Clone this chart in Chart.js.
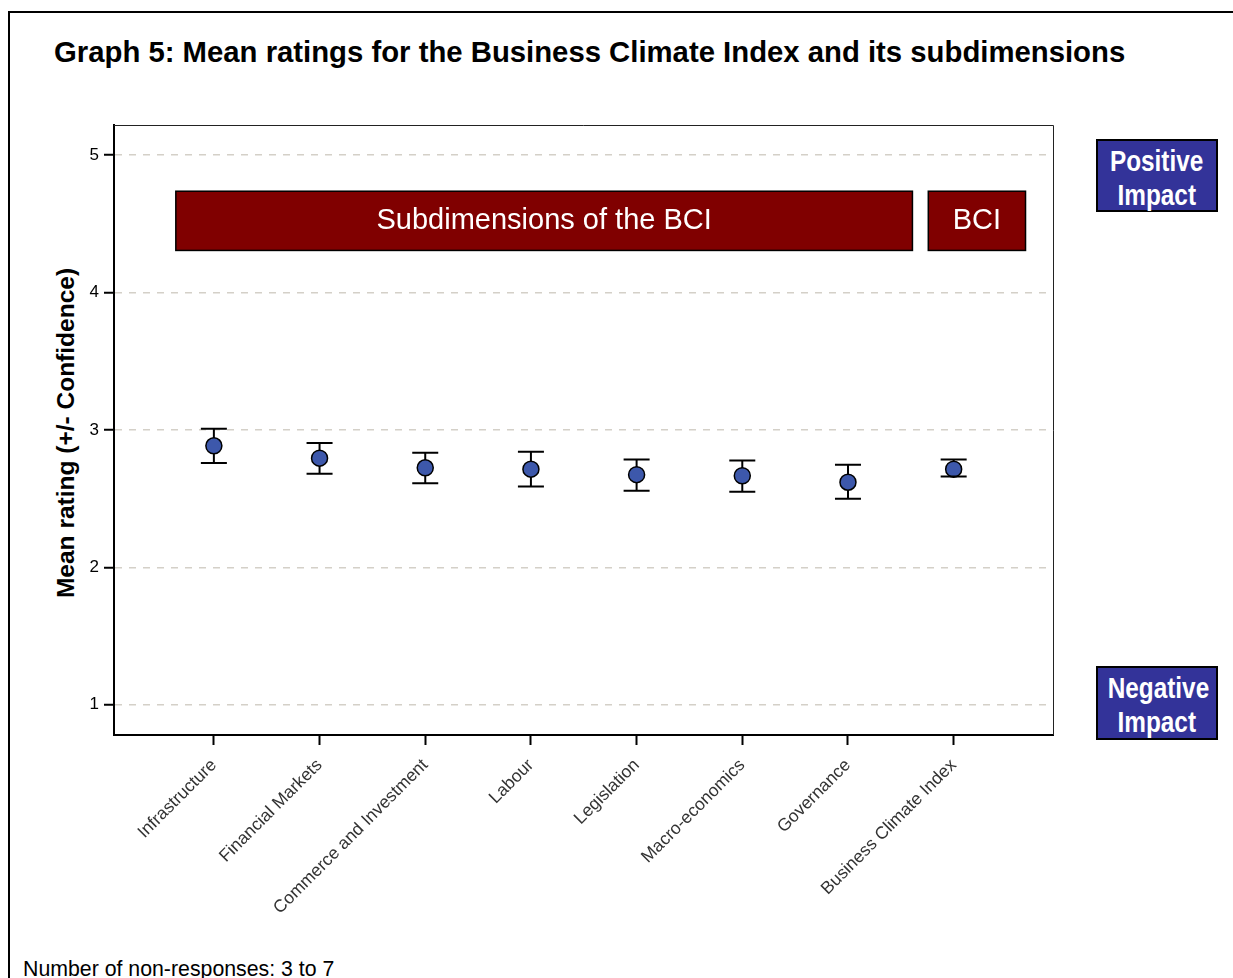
<!DOCTYPE html>
<html>
<head>
<meta charset="utf-8">
<script src="https://cdn.jsdelivr.net/npm/chart.js@4/dist/chart.umd.min.js"></script>
<style>
  html, body { margin: 0; padding: 0; background: #fff; }
  #wrap { position: relative; width: 1233px; height: 978px; overflow: hidden; font-family: "Liberation Sans", Arial, sans-serif; }
  #frame { position: absolute; left: 8px; top: 11px; width: 1240px; height: 990px; border-left: 2px solid #000; border-top: 2px solid #000; box-sizing: border-box; }
  #title { position: absolute; left: 54px; top: 35px; font-size: 29.3px; font-weight: bold; color: #000; white-space: nowrap; }
  #ytitle { position: absolute; left: 66px; top: 433px; transform: translate(-50%, -50%) rotate(-90deg); font-size: 24.5px; font-weight: bold; white-space: nowrap; }
  #foot { position: absolute; left: 23px; top: 957px; font-size: 21.3px; color: #000; white-space: nowrap; }
  .imp { position: absolute; left: 1096px; width: 122px; background: #333399; border: 2px solid #000; box-sizing: border-box; color: #fff;
         font-family: "Liberation Sans", Arial, sans-serif; font-weight: bold; font-size: 29px; line-height: 34px; text-align: center; padding-top: 3px; }
  .imp span { display: inline-block; transform: scaleX(0.84); white-space: nowrap; }
  canvas { position: absolute; left: 0; top: 0; }
</style>
</head>
<body>
<div id="wrap">
  <div id="frame"></div>
  <div id="title">Graph 5: Mean ratings for the Business Climate Index and its subdimensions</div>
  <div id="ytitle">Mean rating (+/- Confidence)</div>
  <div class="imp" style="top:139px;height:73px;"><span>Positive</span><br><span>Impact</span></div>
  <div class="imp" style="top:666px;height:74px;"><span>Negative</span><br><span>Impact</span></div>
  <div id="foot">Number of non-responses: 3 to 7</div>
  <canvas id="c" width="1233" height="978"></canvas>
</div>
<script>
const categories = ["Infrastructure", "Financial Markets", "Commerce and Investment", "Labour", "Legislation", "Macro-economics", "Governance", "Business Climate Index"];
const means = [2.885, 2.795, 2.725, 2.715, 2.675, 2.667, 2.620, 2.715];
const upper = [3.010, 2.905, 2.835, 2.842, 2.785, 2.778, 2.747, 2.785];
const lower = [2.759, 2.681, 2.612, 2.589, 2.558, 2.551, 2.500, 2.661];
const yTicks = [1, 2, 3, 4, 5];
const groupLabels = ["Subdimensions of the BCI", "BCI"];
const groupFrom = [-0.36, 6.76];
const groupTo = [6.61, 7.68];
const groupTop = 4.738;
const groupBottom = 4.307;

const errorBars = {
  id: 'errorBars',
  afterDatasetsDraw(chart) {
    const ctx = chart.ctx, xs = chart.scales.x, ys = chart.scales.y;
    ctx.save();
    ctx.strokeStyle = '#000';
    ctx.lineWidth = 2;
    for (let i = 0; i < means.length; i++) {
      const x = xs.getPixelForValue(i);
      const yu = ys.getPixelForValue(upper[i]);
      const yl = ys.getPixelForValue(lower[i]);
      ctx.beginPath();
      ctx.moveTo(x - 13, yu); ctx.lineTo(x + 13, yu);
      ctx.moveTo(x - 13, yl); ctx.lineTo(x + 13, yl);
      ctx.stroke();
    }
    ctx.restore();
  },
  beforeDatasetsDraw(chart) {
    const ctx = chart.ctx, xs = chart.scales.x, ys = chart.scales.y;
    ctx.save();
    ctx.strokeStyle = '#000';
    ctx.lineWidth = 2;
    for (let i = 0; i < means.length; i++) {
      const x = xs.getPixelForValue(i);
      ctx.beginPath();
      ctx.moveTo(x, ys.getPixelForValue(upper[i]));
      ctx.lineTo(x, ys.getPixelForValue(lower[i]));
      ctx.stroke();
    }
    ctx.restore();
  }
};

const frameAndGroups = {
  id: 'frameAndGroups',
  beforeDatasetsDraw(chart) {
    const ctx = chart.ctx, a = chart.chartArea, xs = chart.scales.x, ys = chart.scales.y;
    ctx.save();
    ctx.strokeStyle = '#222';
    ctx.lineWidth = 1;
    ctx.beginPath();
    ctx.moveTo(a.left, a.top + 0.5); ctx.lineTo(a.right + 0.5, a.top + 0.5); ctx.lineTo(a.right + 0.5, a.bottom);
    ctx.stroke();
    for (let g = 0; g < groupLabels.length; g++) {
      const x1 = xs.getPixelForValue(groupFrom[g]);
      const x2 = xs.getPixelForValue(groupTo[g]);
      const y1 = ys.getPixelForValue(groupTop);
      const y2 = ys.getPixelForValue(groupBottom);
      ctx.fillStyle = '#800000';
      ctx.fillRect(x1, y1, x2 - x1, y2 - y1);
      ctx.strokeStyle = '#000';
      ctx.lineWidth = 1.5;
      ctx.strokeRect(x1, y1, x2 - x1, y2 - y1);
      ctx.fillStyle = '#fff';
      ctx.font = '29px "Liberation Sans", Arial, sans-serif';
      ctx.textAlign = 'center';
      ctx.textBaseline = 'middle';
      ctx.fillText(groupLabels[g], (x1 + x2) / 2, (y1 + y2) / 2);
    }
    ctx.restore();
  }
};

new Chart(document.getElementById('c'), {
  type: 'scatter',
  data: {
    datasets: [{
      data: means.map((v, i) => ({ x: i, y: v })),
      backgroundColor: '#3d58ab',
      borderColor: '#000',
      borderWidth: 1.5,
      pointRadius: 8,
      pointHoverRadius: 8
    }]
  },
  options: {
    responsive: false,
    animation: false,
    events: [],
    layout: { padding: { top: 125, right: 180, left: 0, bottom: 0 } },
    plugins: { legend: { display: false }, tooltip: { enabled: false }, title: { display: false } },
    scales: {
      x: {
        type: 'linear',
        min: -0.945,
        max: 7.94,
        afterFit(s) { s.height = 243; },
        afterBuildTicks(s) { s.ticks = categories.map((c, i) => ({ value: i })); },
        ticks: {
          autoSkip: false,
          minRotation: 45,
          maxRotation: 45,
          padding: 10,
          color: '#333',
          font: { family: '"Liberation Sans", Arial, sans-serif', size: 17.5 },
          callback: (v) => categories[v]
        },
        grid: { display: true, drawOnChartArea: false, drawTicks: true, tickLength: 10, tickColor: '#000', tickWidth: 2 },
        border: { display: true, color: '#000', width: 2 }
      },
      y: {
        min: 0.78,
        max: 5.22,
        afterFit(s) { s.width = 114; },
        afterBuildTicks(s) { s.ticks = yTicks.map(v => ({ value: v })); },
        ticks: {
          padding: 5,
          color: '#000',
          font: { family: '"Liberation Sans", Arial, sans-serif', size: 17 }
        },
        grid: { display: true, drawOnChartArea: true, drawTicks: true, color: '#d4d0c8', lineWidth: 1.5, tickLength: 10, tickColor: '#000', tickWidth: 2 },
        border: { display: true, color: '#000', width: 2, dash: [7, 7] }
      }
    }
  },
  plugins: [frameAndGroups, errorBars]
});
</script>
</body>
</html>
